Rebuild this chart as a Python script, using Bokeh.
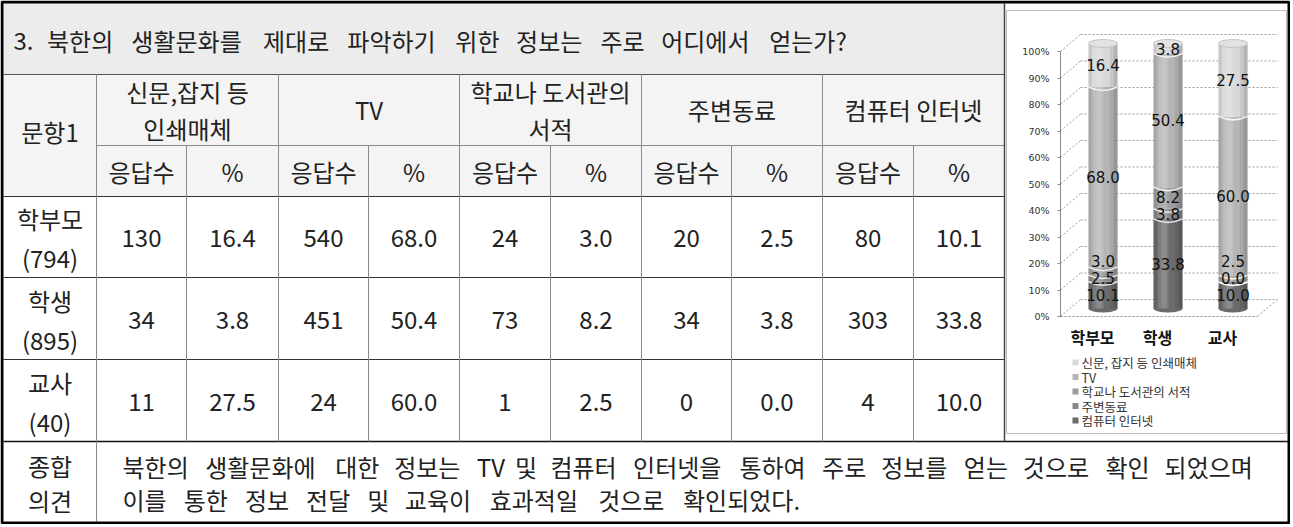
from bokeh.plotting import figure
from bokeh.models import Range1d, LinearAxis, FixedTicker, PrintfTickFormatter
from bokeh.embed import file_html
from bokeh.resources import INLINE
from bokeh.core.properties import value

# ---------------- data ----------------
title = "3. 북한의 생활문화를 제대로 파악하기 위한 정보는 주로 어디에서 얻는가?"
stub_label = "문항1"
groups = ["학부모", "학생", "교사"]
group_n = [794, 895, 40]
categories = ["신문, 잡지 등 인쇄매체", "TV", "학교나 도서관의 서적", "주변동료", "컴퓨터 인터넷"]
header_lines = [["신문,잡지 등", "인쇄매체"], ["TV"], ["학교나 도서관의", "서적"], ["주변동료"], ["컴퓨터 인터넷"]]
sub_labels = ["응답수", "%"]
counts_parent = [130, 540, 24, 20, 80]
counts_student = [34, 451, 73, 34, 303]
counts_teacher = [11, 24, 1, 0, 4]
pct_parent = [16.4, 68.0, 3.0, 2.5, 10.1]
pct_student = [3.8, 50.4, 8.2, 3.8, 33.8]
pct_teacher = [27.5, 60.0, 2.5, 0.0, 10.0]
pct_ticks = [0, 10, 20, 30, 40, 50, 60, 70, 80, 90, 100]
summary_label = ["종합", "의견"]
summary_lines = [
    "북한의 생활문화에 대한 정보는 TV 및 컴퓨터 인터넷을 통하여 주로 정보를 얻는 것으로 확인 되었으며",
    "이를 통한 정보 전달 및 교육이 효과적일 것으로 확인되었다.",
]
cat_colors = ["#d8d8d8", "#b5b5b5", "#9d9d9d", "#888888", "#6b6b6b"]

counts_all = [counts_parent, counts_student, counts_teacher]
pct_all = [pct_parent, pct_student, pct_teacher]

# ---------------- layout constants (reference pixel space) ----------------
W, H = 1290, 524
RX0, RX1 = 0, 1290
RY0, RY1 = 0, 524
FONT = "Noto Sans CJK KR"
FS = "24px"
TXT = "#222222"

COLS = [3, 96, 186, 278, 368, 459, 550, 641, 731, 822, 913, 1004]
RIGHT = 1288
TOP, Y_TITLE, Y_H1, Y_H2 = 3, 74, 145, 196
ROW_Y = [196, 277, 359, 441]
BOTTOM = 521

PX = 2.65           # reference px per percent
DEPTH_PX = 17
STEP = 65           # px between categories in chart

p = figure(width=W, height=H, x_range=Range1d(RX0, RX1), y_range=Range1d(RY1, RY0),
           x_axis_type=None, y_axis_type=None, output_backend="svg",
           toolbar_location=None, min_border=0, outline_line_color=None,
           background_fill_color="white", border_fill_color="white")


def pct_range(zero_y):
    return Range1d(start=(zero_y - RY1) / PX, end=(zero_y - RY0) / PX)


def cat_range(x0):
    return Range1d(start=(RX0 - x0) / STEP, end=(RX1 - x0) / STEP)


p.extra_y_ranges = {"axis": pct_range(316), "bar": pct_range(308)}
p.extra_x_ranges = {"barx": cat_range(1102.5), "labx": cat_range(1092)}


def em_width(s):
    w = 0.0
    for ch in s:
        if "\uac00" <= ch <= "\ud7a3":
            w += 0.985
        elif ch.isdigit():
            w += 0.555
        elif ch in ".,":
            w += 0.28
        elif ch == "?":
            w += 0.48
        elif ch in "()":
            w += 0.33
        else:
            w += 0.55
    return w


def words_line(line, x0, y, size, gap_em=0.5):
    xs, ws = [], []
    x = x0
    for w in line.split(" "):
        xs.append(x)
        ws.append(w)
        x += (em_width(w) + gap_em) * size
    p.text(x=xs, y=[y] * len(ws), text=ws, text_font=value(FONT), text_font_size=f"{size}px",
           text_align="left", text_baseline="middle", text_color=TXT)


def ctext(xs, ys, texts, size=FS, font=FONT, color=TXT):
    p.text(x=xs, y=ys, text=texts, text_font=value(font), text_font_size=size,
           text_align="center", text_baseline="middle", text_color=color)


# ---------------- table fills ----------------
p.quad(left=[TOP], right=[COLS[-1]], top=[TOP], bottom=[Y_TITLE], fill_color="#ececec", line_color=None)
p.quad(left=[TOP], right=[COLS[-1]], top=[Y_TITLE], bottom=[Y_H2], fill_color="#f4f4f4", line_color=None)

# ---------------- table lines ----------------
p.segment(x0=[TOP], y0=[Y_TITLE], x1=[COLS[-1]], y1=[Y_TITLE], line_color="#555555", line_width=1.2)
p.segment(x0=[COLS[1]], y0=[Y_H1], x1=[COLS[-1]], y1=[Y_H1], line_color="#8a8a8a", line_width=1)
p.segment(x0=[TOP] * 3, y0=ROW_Y[:3], x1=[COLS[-1]] * 3, y1=ROW_Y[:3], line_color="#333333", line_width=1)
p.segment(x0=[TOP], y0=[ROW_Y[3]], x1=[RIGHT], y1=[ROW_Y[3]], line_color="#111111", line_width=1.6)
major_x = COLS[1:-1:2]
minor_x = COLS[2:-1:2]
p.segment(x0=major_x, y0=[Y_TITLE] * len(major_x), x1=major_x, y1=[ROW_Y[3]] * len(major_x),
          line_color="#8a8a8a", line_width=1)
p.segment(x0=minor_x, y0=[Y_H1] * len(minor_x), x1=minor_x, y1=[ROW_Y[3]] * len(minor_x),
          line_color="#8a8a8a", line_width=1)
p.segment(x0=[COLS[1]], y0=[ROW_Y[3]], x1=[COLS[1]], y1=[BOTTOM], line_color="#8a8a8a", line_width=1)
p.segment(x0=[COLS[-1]], y0=[TOP], x1=[COLS[-1]], y1=[ROW_Y[3]], line_color="#444444", line_width=1.5)

# ---------------- table texts ----------------
words_line(title, 13, 40, 24, gap_em=0.56)
ctext([(COLS[0] + COLS[1]) / 2], [131], [stub_label])
for j, lines in enumerate(header_lines):
    xc = (COLS[1 + 2 * j] + COLS[3 + 2 * j]) / 2
    n = len(lines)
    ys = [109 + (k - (n - 1) / 2) * 37 for k in range(n)]
    ctext([xc] * n, ys, lines)
    ctext([(COLS[1 + 2 * j] + COLS[2 + 2 * j]) / 2, (COLS[2 + 2 * j] + COLS[3 + 2 * j]) / 2],
          [171, 171], sub_labels)

for r, g in enumerate(groups):
    yc = (ROW_Y[r] + ROW_Y[r + 1]) / 2 + 1
    ctext([(COLS[0] + COLS[1]) / 2] * 2, [yc - 19.5, yc + 19.5], [g, f"({group_n[r]})"])
    xs, ys, ts = [], [], []
    for j in range(len(categories)):
        xs += [(COLS[1 + 2 * j] + COLS[2 + 2 * j]) / 2, (COLS[2 + 2 * j] + COLS[3 + 2 * j]) / 2]
        ys += [yc, yc]
        ts += [str(counts_all[r][j]), f"{pct_all[r][j]:.1f}"]
    ctext(xs, ys, ts)

ctext([(COLS[0] + COLS[1]) / 2] * 2, [465, 500], summary_label)
words_line(summary_lines[0], 122, 466, 24, gap_em=0.49)
words_line(summary_lines[1], 122, 499, 24, gap_em=0.58)

# ---------------- chart ----------------
p.quad(left=[1006], right=[1286], top=[10], bottom=[433], fill_color="white", line_color="#bdbdbd", line_width=1)

DEPTH = DEPTH_PX / PX
p.segment(x0=[1080] * len(pct_ticks), y0=[t + DEPTH for t in pct_ticks], x1=[1277] * len(pct_ticks),
          y1=[t + DEPTH for t in pct_ticks], line_color="#9a9a9a", line_dash="2 2", line_width=1,
          y_range_name="axis")
p.segment(x0=[1060] * len(pct_ticks), y0=pct_ticks, x1=[1080] * len(pct_ticks),
          y1=[t + DEPTH for t in pct_ticks], line_color="#9a9a9a", line_dash="2 2", line_width=1,
          y_range_name="axis")
p.segment(x0=[1257], y0=[0], x1=[1277], y1=[DEPTH], line_color="#9a9a9a", line_dash="2 2",
          line_width=1, y_range_name="axis")

yaxis = LinearAxis(y_range_name="axis", fixed_location=1060, ticker=FixedTicker(ticks=pct_ticks),
                   formatter=PrintfTickFormatter(format="%d%%"), bounds=(0, 100))
yaxis.axis_line_color = "#8a8a8a"
yaxis.major_tick_line_color = "#8a8a8a"
yaxis.major_tick_out = 3
yaxis.major_tick_in = 0
yaxis.minor_tick_line_color = None
yaxis.major_label_standoff = 8
yaxis.major_label_text_font = "DejaVu Sans"
yaxis.major_label_text_font_size = "9.5px"
yaxis.major_label_text_color = "#303030"
p.add_layout(yaxis, "left")

xaxis = LinearAxis(x_range_name="labx", y_range_name="axis", fixed_location=0,
                   ticker=FixedTicker(ticks=list(range(len(groups)))),
                   major_label_overrides={i: g for i, g in enumerate(groups)},
                   bounds=(-32 / STEP, 165 / STEP))
xaxis.axis_line_color = "#8a8a8a"
xaxis.axis_line_dash = "2 2"
xaxis.major_tick_line_color = None
xaxis.minor_tick_line_color = None
xaxis.major_label_standoff = 2
xaxis.major_label_text_font = FONT
xaxis.major_label_text_font_size = "16px"
xaxis.major_label_text_font_style = "bold"
xaxis.major_label_text_color = "#111111"
p.add_layout(xaxis, "below")

# cylinders (stacked bottom -> top: reversed category order)
BAR_W = 29 / STEP
idx = list(range(len(groups)))
order = list(range(len(categories)))[::-1]
p.ellipse(x=idx, y=[0] * 3, width=29, height=8, width_units="screen", height_units="screen",
          fill_color=cat_colors[order[0]], line_color=None, x_range_name="barx", y_range_name="bar")
bottoms = [0.0] * len(groups)
bounds_all = [[] for _ in groups]
centers_all = [[] for _ in groups]
for j in order:
    tops = [bottoms[g] + pct_all[g][j] for g in idx]
    p.vbar(x=idx, bottom=bottoms, top=tops, width=BAR_W, fill_color=cat_colors[j], line_color=None,
           x_range_name="barx", y_range_name="bar")
    for g in idx:
        centers_all[g].append(((bottoms[g] + tops[g]) / 2, pct_all[g][j]))
        bounds_all[g].append(tops[g])
    bottoms = tops

for off, wd, col, al in [(-0.2, 0.05, "black", 0.08), (0.165, 0.12, "black", 0.07),
                         (0.195, 0.06, "black", 0.10), (-0.07, 0.16, "white", 0.12),
                         (-0.06, 0.08, "white", 0.12)]:
    p.vbar(x=[i + off for i in idx], bottom=[0] * 3, top=[100] * 3, width=wd, fill_color=col,
           fill_alpha=al, line_color=None, x_range_name="barx", y_range_name="bar")

SAG = 3.5 / PX
hw = BAR_W / 2
bx0, by, bx1, bc = [], [], [], []
for g in idx:
    for b in bounds_all[g][:-1]:
        bx0.append(g - hw)
        bx1.append(g + hw)
        bc.append(g)
        by.append(b)
p.quadratic(x0=bx0, y0=by, x1=bx1, y1=by, cx=bc, cy=[b - 2 * SAG for b in by], line_color="white",
            line_alpha=0.85, line_width=1.5, x_range_name="barx", y_range_name="bar")
p.ellipse(x=idx, y=[100] * 3, width=29, height=8, width_units="screen", height_units="screen",
          fill_color="#e2e2e2", line_color="#c4c4c4", line_width=1, x_range_name="barx", y_range_name="bar")

GAP = 17 / PX
lx, ly, lt = [], [], []
for g in idx:
    prev = -1e9
    for c, v in centers_all[g]:
        yv = max(c, prev + GAP)
        prev = yv
        lx.append(g)
        ly.append(yv)
        lt.append(f"{v:.1f}")
p.text(x=lx, y=ly, text=lt, text_font=value("DejaVu Sans"), text_font_size="15px", text_align="center",
       text_baseline="middle", text_color="#111111", x_range_name="barx", y_range_name="bar")

# legend (manual, in category order)
LEG_X, LEG_Y, LEG_STEP = 1075, 362, 14.5
ly2 = [LEG_Y + k * LEG_STEP for k in range(len(categories))]
p.scatter(x=[LEG_X] * len(categories), y=ly2, marker="square", size=6, fill_color=cat_colors,
          line_color=None)
p.text(x=[LEG_X + 6] * len(categories), y=ly2, text=categories, text_font=value(FONT),
       text_font_size="12.5px", text_align="left", text_baseline="middle", text_color="#333333")

# outer border
p.quad(left=[1.5], right=[1288.5], top=[1.5], bottom=[522.5], fill_color=None, line_color="black",
       line_width=3)

open("out.html", "w").write(file_html(p, INLINE))
